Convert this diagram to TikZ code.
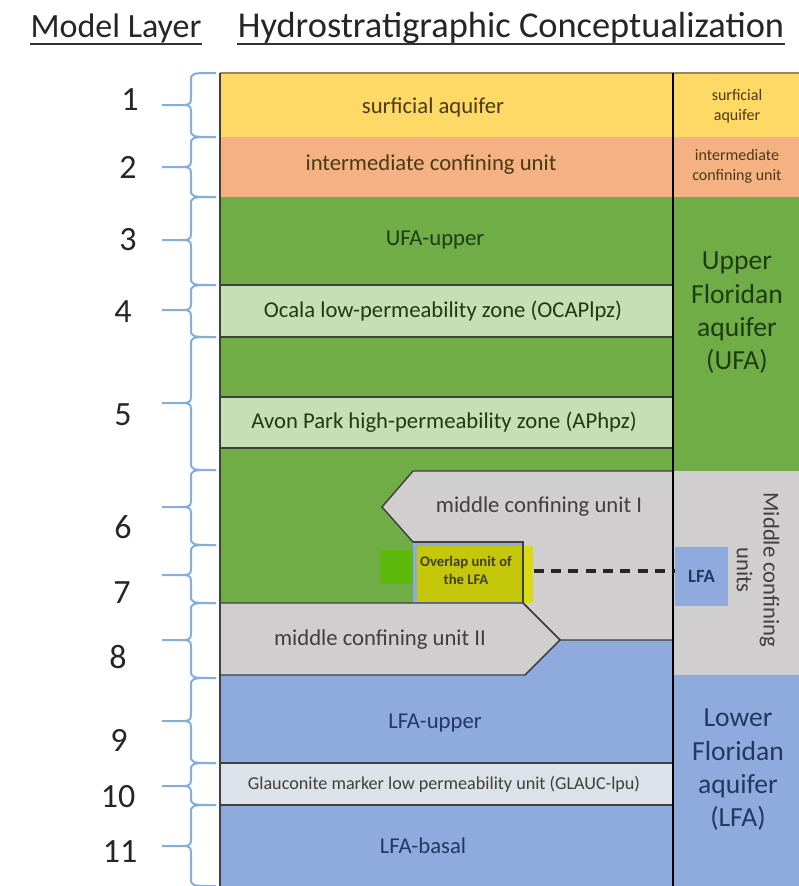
\documentclass[tikz,border=0pt]{standalone}
\usepackage{fontspec}
\setmainfont{Carlito}
\usetikzlibrary{positioning}

\definecolor{surfyel}{HTML}{FFD966}
\definecolor{icusal}{HTML}{F4B183}
\definecolor{ufagrn}{HTML}{70AD47}
\definecolor{zonegrn}{HTML}{C5E0B4}
\definecolor{mcugray}{HTML}{D0CECE}
\definecolor{lfablue}{HTML}{8FAADC}
\definecolor{glaucgray}{HTML}{DCE1EA}
\definecolor{ovlyel}{HTML}{C4C70A}
\definecolor{ovlbright}{HTML}{D9DA12}
\definecolor{ovlgrn}{HTML}{5DB80C}
\definecolor{bracebl}{HTML}{86AEDD}
\definecolor{txtbrown}{HTML}{4A3A12}
\definecolor{txtgreen}{HTML}{1E3B12}
\definecolor{txtgray}{HTML}{3F3F3F}
\definecolor{txtblue}{HTML}{203864}

\tikzset{every picture/.style={line width=0.75pt}}
\tikzset{
  layerbrace/.style={draw=bracebl, line width=1.5pt},
  layernum/.style={text=black!85, font=\fontsize{25.5}{30}\selectfont},
  headtitle/.style={text=black!85, font=\fontsize{25.5}{30}\selectfont, anchor=base, inner sep=0pt},
  headline/.style={draw=black!80, line width=1.6pt},
  unittext/.style={font=\fontsize{17}{20}\selectfont, align=center},
  sidetext/.style={font=\fontsize{20.7}{25}\selectfont, align=center},
  smalltext/.style={font=\fontsize{12}{15}\selectfont, align=center, text=txtbrown},
  edgeline/.style={draw=black!75, line width=1.1pt},
  ovldash/.style={draw=black!85, line width=2.6pt, dash pattern=on 7.5pt off 5.5pt},
}

\begin{document}
\begin{tikzpicture}[x=0.75pt,y=0.75pt,yscale=-1,xscale=1]
\useasboundingbox (0,0) rectangle (799,886);

% column fills
\fill[surfyel] (220,73) rectangle (799,137);
\fill[icusal] (220,137) rectangle (799,197);
\fill[ufagrn] (220,197) rectangle (673,603);
\fill[ufagrn] (673,197) rectangle (799,471);
\fill[lfablue] (220,640) rectangle (673,886);
\fill[mcugray] (673,471) rectangle (799,675);
\fill[lfablue] (673,675) rectangle (799,886);

% permeability zones
\filldraw[fill=zonegrn, edgeline] (220,285) rectangle (673,337);
\filldraw[fill=zonegrn, edgeline] (220,397) rectangle (673,448);

% middle confining unit I
\filldraw[fill=mcugray, edgeline] (382,507) -- (413,471) -- (673,471) -- (673,640) -- (560,640) -- (523,603) -- (523,542) -- (413,542) -- cycle;

% overlap unit
\fill[lfablue] (413,542) rectangle (523,603);
\fill[ovlgrn] (380,550) rectangle (413,584);
\node[fill=ovlyel, minimum width=87pt, minimum height=42pt, inner sep=0pt] (ovl) at (475,574) {};
\fill[ovlbright] (523,546) rectangle (533,603);
\node[text=black!70!olive, font=\bfseries\fontsize{11}{13.5}\selectfont, align=center, inner sep=0pt] (ovltext) at (466,570) {Overlap unit of\\the LFA};
\draw[edgeline] (413,542) -- (523,542) -- (523,603);

% middle confining unit II
\filldraw[fill=mcugray, edgeline] (220,603) -- (523,603) -- (560,640) -- (525,675) -- (220,675) -- cycle;

% glauconite marker
\filldraw[fill=glaucgray, edgeline] (220,763) rectangle (673,805);

% LFA inside middle confining units
\node[fill=lfablue, text=txtblue, font=\bfseries\fontsize{14}{16}\selectfont, minimum width=39.75pt, minimum height=44.25pt, inner sep=0pt] (lfa) at (701.5,576.5) {LFA};
\draw[ovldash] (ovl.east |- 0,571) -- (lfa.west |- 0,571);

% frame
\draw[draw=brown!60!black!70, line width=1.1pt] (220,73) -- (799,73);
\draw[edgeline] (220,73) -- (220,886);
\draw[draw=black, line width=1.1pt] (673,73) -- (673,886);

% Text Node
\node[unittext, text=txtbrown] (surf) at (433,107) {surficial aquifer};
\node[unittext, text=txtbrown] (icu) at (431,165) {intermediate confining unit};
\node[unittext, text=txtgreen] (ufaup) at (435,240) {UFA-upper};
\node[unittext, text=txtgreen] (ocala) at (443,311) {Ocala low-permeability zone (OCAPlpz)};
\node[unittext, text=txtgreen] (avon) at (444,422) {Avon Park high-permeability zone (APhpz)};
\node[unittext, text=txtgray] (mcuone) at (539,507) {middle confining unit I};
\node[unittext, text=txtgray] (mcutwo) at (380,640) {middle confining unit II};
\node[unittext, text=txtblue] (lfaup) at (435,723) {LFA-upper};
\node[unittext, text=txtgray, font=\fontsize{13.6}{15}\selectfont] (glauc) at (444,784) {Glauconite marker low permeability unit (GLAUC-lpu)};
\node[unittext, text=txtblue] (lfabas) at (423,846) {LFA-basal};

% right column
\node[smalltext] (surfside) at (737,106) {surficial\\aquifer};
\node[smalltext] (icuside) at (737,166) {intermediate\\confining unit};
\node[sidetext, text=txtgreen] (ufaside) at (737,313) {Upper\\Floridan\\aquifer\\(UFA)};
\node[unittext, text=txtgray, rotate=-90] (mcuside) at (758,570) {Middle confining\\units};
\node[sidetext, text=txtblue] (lfaside) at (738,770) {Lower\\Floridan\\aquifer\\(LFA)};

% titles
\node[headtitle] (mdltitle) at (116,37) {Model Layer};
\node[headtitle, font=\fontsize{27.3}{32}\selectfont] (hydtitle) at (511,37) {Hydrostratigraphic Conceptualization};
\draw[headline] ([yshift=5pt]mdltitle.base west) -- ([yshift=5pt]mdltitle.base east);
\draw[headline] ([yshift=5pt]hydtitle.base west) -- ([yshift=5pt]hydtitle.base east);

% layer braces
\foreach \ytop/\ymid/\ybot in {73/105/137, 137/167/197, 197/240/285, 285/310/337, 337/403/470, 470/507/545, 545/575/603, 603/640/678, 678/721/763, 763/786/805, 805/846/886}
  \draw[layerbrace] (216,\ytop) .. controls (191,\ytop) .. (191,\ytop+8) -- (191,\ymid-6) .. controls (191,\ymid) and (188,\ymid) .. (180,\ymid) -- (162,\ymid) (180,\ymid) .. controls (188,\ymid) and (191,\ymid) .. (191,\ymid+6) -- (191,\ybot-8) .. controls (191,\ybot) .. (216,\ybot);

% layer numbers
\foreach \n/\xx/\yy in {1/130/100, 2/128/167, 3/128/240, 4/123/312, 5/123/415, 6/123/527, 7/122/593, 8/118/657, 9/119/740, 10/118/797, 11/120/852}
  \node[layernum] (num\n) at (\xx,\yy) {\n};

\end{tikzpicture}
\end{document}
